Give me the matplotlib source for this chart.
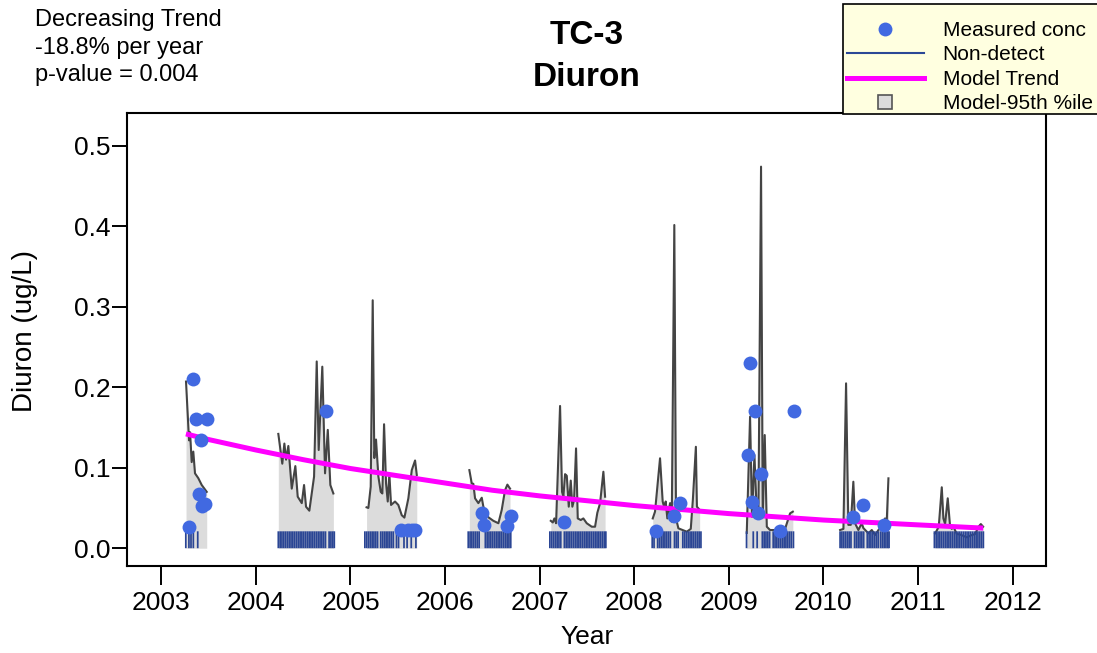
import numpy as np
import matplotlib
matplotlib.use('Agg')
import matplotlib.pyplot as plt
from matplotlib.lines import Line2D
from matplotlib.patches import Rectangle

plt.rcParams['font.family'] = ['Liberation Sans', 'DejaVu Sans']

# model 95th percentile curve (decimal year, ug/L), one block per season
q95_t = [2003.261, 2003.293, 2003.304, 2003.321, 2003.338, 2003.356, 2003.391, 2003.427, 2003.480,
         2004.237, 2004.279, 2004.301, 2004.319, 2004.343, 2004.379, 2004.417, 2004.442, 2004.485,
         2004.509, 2004.530, 2004.565, 2004.615, 2004.643, 2004.664, 2004.702, 2004.731, 2004.760,
         2004.787, 2004.819,
         2005.170, 2005.189, 2005.214, 2005.235, 2005.252, 2005.270, 2005.295, 2005.320, 2005.337,
         2005.355, 2005.376, 2005.394, 2005.411, 2005.429, 2005.471, 2005.506, 2005.542, 2005.570,
         2005.612, 2005.648, 2005.683, 2005.701,
         2006.257, 2006.282, 2006.299, 2006.317, 2006.352, 2006.388, 2006.405, 2006.458, 2006.511,
         2006.564, 2006.599, 2006.634, 2006.659, 2006.687,
         2007.118, 2007.139, 2007.156, 2007.174, 2007.216, 2007.237, 2007.251, 2007.269, 2007.287,
         2007.308, 2007.329, 2007.346, 2007.364, 2007.385, 2007.403, 2007.435, 2007.462, 2007.498,
         2007.551, 2007.586, 2007.610, 2007.639, 2007.674, 2007.692,
         2008.196, 2008.220, 2008.273, 2008.301, 2008.319, 2008.333, 2008.350, 2008.379, 2008.397,
         2008.424, 2008.442, 2008.467, 2008.556, 2008.598, 2008.620, 2008.652, 2008.663, 2008.692,
         2009.190, 2009.225, 2009.246, 2009.271, 2009.296, 2009.313, 2009.341, 2009.359, 2009.380,
         2009.402, 2009.436, 2009.489, 2009.542, 2009.595, 2009.648, 2009.677,
         2010.177, 2010.212, 2010.240, 2010.264, 2010.290, 2010.317, 2010.335, 2010.370, 2010.406,
         2010.423, 2010.476, 2010.512, 2010.547, 2010.582, 2010.618, 2010.652, 2010.670, 2010.688,
         2011.181, 2011.199, 2011.220, 2011.252, 2011.269, 2011.287, 2011.315, 2011.340, 2011.358,
         2011.375, 2011.411, 2011.446, 2011.517, 2011.570, 2011.605, 2011.640, 2011.665, 2011.689]
q95_v = [0.207, 0.134, 0.144, 0.107, 0.120, 0.093, 0.087, 0.0785, 0.070,
         0.142, 0.105, 0.130, 0.110, 0.127, 0.074, 0.102, 0.064, 0.056,
         0.0785, 0.0515, 0.0466, 0.089, 0.232, 0.122, 0.2255, 0.093, 0.147,
         0.0785, 0.068,
         0.0508, 0.050, 0.0765, 0.308, 0.112, 0.135, 0.089, 0.070, 0.068,
         0.154, 0.0806, 0.058, 0.092, 0.0537, 0.058, 0.0537, 0.041, 0.038,
         0.062, 0.097, 0.109, 0.091,
         0.097, 0.0806, 0.080, 0.062, 0.056, 0.0627, 0.0516, 0.0384, 0.034,
         0.031, 0.0475, 0.072, 0.079, 0.074,
         0.034, 0.032, 0.037, 0.031, 0.1767, 0.070, 0.064, 0.092, 0.090,
         0.0516, 0.084, 0.0516, 0.060, 0.124, 0.037, 0.035, 0.037, 0.031,
         0.0267, 0.0267, 0.044, 0.0558, 0.095, 0.064,
         0.037, 0.0454, 0.1117, 0.058, 0.050, 0.058, 0.037, 0.056, 0.033,
         0.4015, 0.037, 0.0247, 0.0205, 0.024, 0.060, 0.126, 0.0516, 0.0475,
         0.019, 0.1634, 0.039, 0.1158, 0.0433, 0.038, 0.474, 0.039, 0.1406,
         0.0267, 0.0226, 0.0226, 0.0226, 0.024, 0.0433, 0.0454,
         0.0226, 0.024, 0.2048, 0.029, 0.029, 0.0826, 0.031, 0.0226, 0.031,
         0.025, 0.0185, 0.0226, 0.0164, 0.0226, 0.0267, 0.037, 0.033, 0.0868,
         0.0185, 0.022, 0.0267, 0.0757, 0.037, 0.030, 0.062, 0.0267, 0.024,
         0.0267, 0.0176, 0.017, 0.0135, 0.0164, 0.0176, 0.0267, 0.030, 0.0267]

# measured detections
meas_t = [2003.293, 2003.339, 2003.364, 2003.402, 2003.420, 2003.430, 2003.458, 2003.480,
          2004.742,
          2005.531, 2005.611, 2005.647, 2005.683,
          2006.388, 2006.412, 2006.659, 2006.695,
          2007.258,
          2008.231, 2008.424, 2008.485,
          2009.204, 2009.228, 2009.243, 2009.281, 2009.306, 2009.341, 2009.542, 2009.687,
          2010.317, 2010.416, 2010.642]
meas_v = [0.0267, 0.210, 0.160, 0.0673, 0.1344, 0.053, 0.055, 0.160,
          0.1704,
          0.0226, 0.0226, 0.0226, 0.0226,
          0.0433, 0.0288, 0.028, 0.0404,
          0.032,
          0.0214, 0.0404, 0.0566,
          0.1154, 0.2305, 0.0578, 0.170, 0.0433, 0.0926, 0.0214, 0.170,
          0.0391, 0.0533, 0.0288]

# non-detect sample days (day of year)
nd_doy = {
    2003: [95, 107, 115, 124, 141],
    2004: [87, 94, 101, 108, 115, 122, 129, 136, 143, 150, 157, 164, 171, 178, 185, 192, 199,
           206, 213, 220, 227, 234, 241, 248, 255, 262, 269, 283, 290, 297, 303],
    2005: [56, 63, 70, 77, 84, 91, 98, 105, 117, 124, 131, 138, 145, 152, 159, 166, 178, 186,
           207, 219, 235, 253],
    2006: [90, 97, 104, 111, 118, 125, 132, 156, 163, 170, 177, 184, 191, 198, 205, 212, 219,
           226, 233, 240, 247, 254],
    2007: [40, 47, 54, 61, 68, 75, 82, 96, 103, 110, 117, 124, 131, 138, 145, 152, 159, 166,
           173, 180, 187, 194, 201, 208, 215, 222, 229, 236, 243, 250, 256],
    2008: [70, 77, 91, 98, 105, 112, 119, 126, 133, 140, 156, 163, 170, 188, 195, 202, 209,
           216, 223, 230, 237, 244, 251, 258],
    2009: [69, 95, 110, 130, 137, 144, 151, 158, 172, 179, 186, 193, 200, 207, 214, 221, 228,
           235, 242, 250],
    2010: [65, 72, 79, 86, 93, 100, 107, 121, 128, 135, 142, 149, 156, 170, 177, 184, 191, 198,
           205, 212, 221, 228, 235, 242, 249, 254],
    2011: [64, 71, 78, 85, 92, 99, 106, 113, 120, 127, 134, 141, 148, 155, 162, 169, 176, 183,
           190, 197, 204, 211, 218, 225, 232, 239, 246, 253],
}
nd_limit = 0.021

# model trend (-18.8% per year)
trend_t = [2003.26, 2003.5, 2004.0, 2004.5, 2005.0, 2005.5, 2006.0, 2006.5, 2007.0, 2007.5,
           2008.0, 2008.5, 2009.0, 2009.5, 2010.0, 2010.5, 2011.0, 2011.69]
trend_v = [0.142, 0.135, 0.122, 0.110, 0.099, 0.090, 0.081, 0.072, 0.065, 0.059,
           0.053, 0.048, 0.043, 0.039, 0.035, 0.032, 0.029, 0.025]

year_ticks = [2003, 2004, 2005, 2006, 2007, 2008, 2009, 2010, 2011, 2012]
conc_ticks = [0.0, 0.1, 0.2, 0.3, 0.4, 0.5]

W, H = 1097, 653
fig = plt.figure(figsize=(W / 100, H / 100), dpi=100)
ax = fig.add_axes([127 / W, 1 - 565.6 / H, (1046 - 127) / W, (565.6 - 112.7) / H])

# split the 95th percentile curve into seasons
t = np.array(q95_t)
v = np.array(q95_v)
breaks = np.where(np.diff(t) > 0.2)[0] + 1
for st, sv in zip(np.split(t, breaks), np.split(v, breaks)):
    ax.fill_between(st, 0, sv, color='#dcdcdc', lw=0, zorder=1)
    ax.plot(st, sv, color='#444444', lw=1.5, zorder=2)

nd_t = [yr + (d - 0.5) / 365.0 for yr, days in nd_doy.items() for d in days]
rug = ax.vlines(nd_t, 0, nd_limit, color='#2a4594', lw=1.25, zorder=3)
rug.set_snap(False)

ax.plot(trend_t, trend_v, color='#ff00ff', lw=3.6, zorder=4, solid_capstyle='butt')
ax.plot(meas_t, meas_v, 'o', color='#4169e1', ms=10, mec='none', zorder=5)

ax.set_xlim(2002.637, 2012.354)
ax.set_ylim(-0.0216, 0.541)
ax.set_xticks(year_ticks)
ax.set_xticklabels([str(y) for y in year_ticks])
ax.set_yticks(conc_ticks)
ax.set_yticklabels([f'{c:.1f}' for c in conc_ticks])
for s in ax.spines.values():
    s.set_linewidth(1.5)
ax.tick_params(axis='x', direction='out', length=13.5, width=1.4, labelsize=19, pad=5)
ax.tick_params(axis='y', direction='out', length=11, width=1.4, labelsize=19, pad=1)

fig.text(35 / W, 1 - 9 / H, 'Decreasing Trend\n-18.8% per year\np-value = 0.004',
         ha='left', va='top', fontsize=17, linespacing=1.33)
fig.text(586.5 / W, 1 - 36 / H, 'TC-3', ha='center', va='center', fontsize=24, fontweight='bold')
fig.text(586.5 / W, 1 - 77 / H, 'Diuron', ha='center', va='center', fontsize=24, fontweight='bold')
fig.text(25 / W, 1 - 331 / H, 'Diuron (ug/L)', ha='center', va='center', rotation=90, fontsize=20)
fig.text(587 / W, 1 - 637 / H, 'Year', ha='center', va='center', fontsize=19)

# legend box drawn by hand so its padding matches the original
fig.patches.append(Rectangle((842.7 / W, 1 - 114 / H), (1110 - 842.7) / W, (114 - 4) / H,
                             transform=fig.transFigure, facecolor='#ffffe0',
                             edgecolor='black', lw=1.2, zorder=10))
handles = [
    Line2D([], [], marker='o', ls='none', color='#4169e1', ms=10, mec='none'),
    Line2D([], [], color='#2b4896', lw=1.5),
    Line2D([], [], color='#ff00ff', lw=3.6),
    Line2D([], [], marker='s', ls='none', ms=10, mfc='#dcdcdc', mec='#555555', mew=1.2),
]
labels = ['Measured conc', 'Non-detect', 'Model Trend', 'Model-95th %ile']
leg = fig.legend(handles, labels, loc='upper left', bbox_to_anchor=(846.7 / W, 1 - 21 / H),
                 fontsize=15, frameon=False, handlelength=3.7,
                 handletextpad=0.9, borderpad=0, borderaxespad=0, labelspacing=0.26)
leg.set_zorder(11)

fig.savefig('out.png', dpi=100)
